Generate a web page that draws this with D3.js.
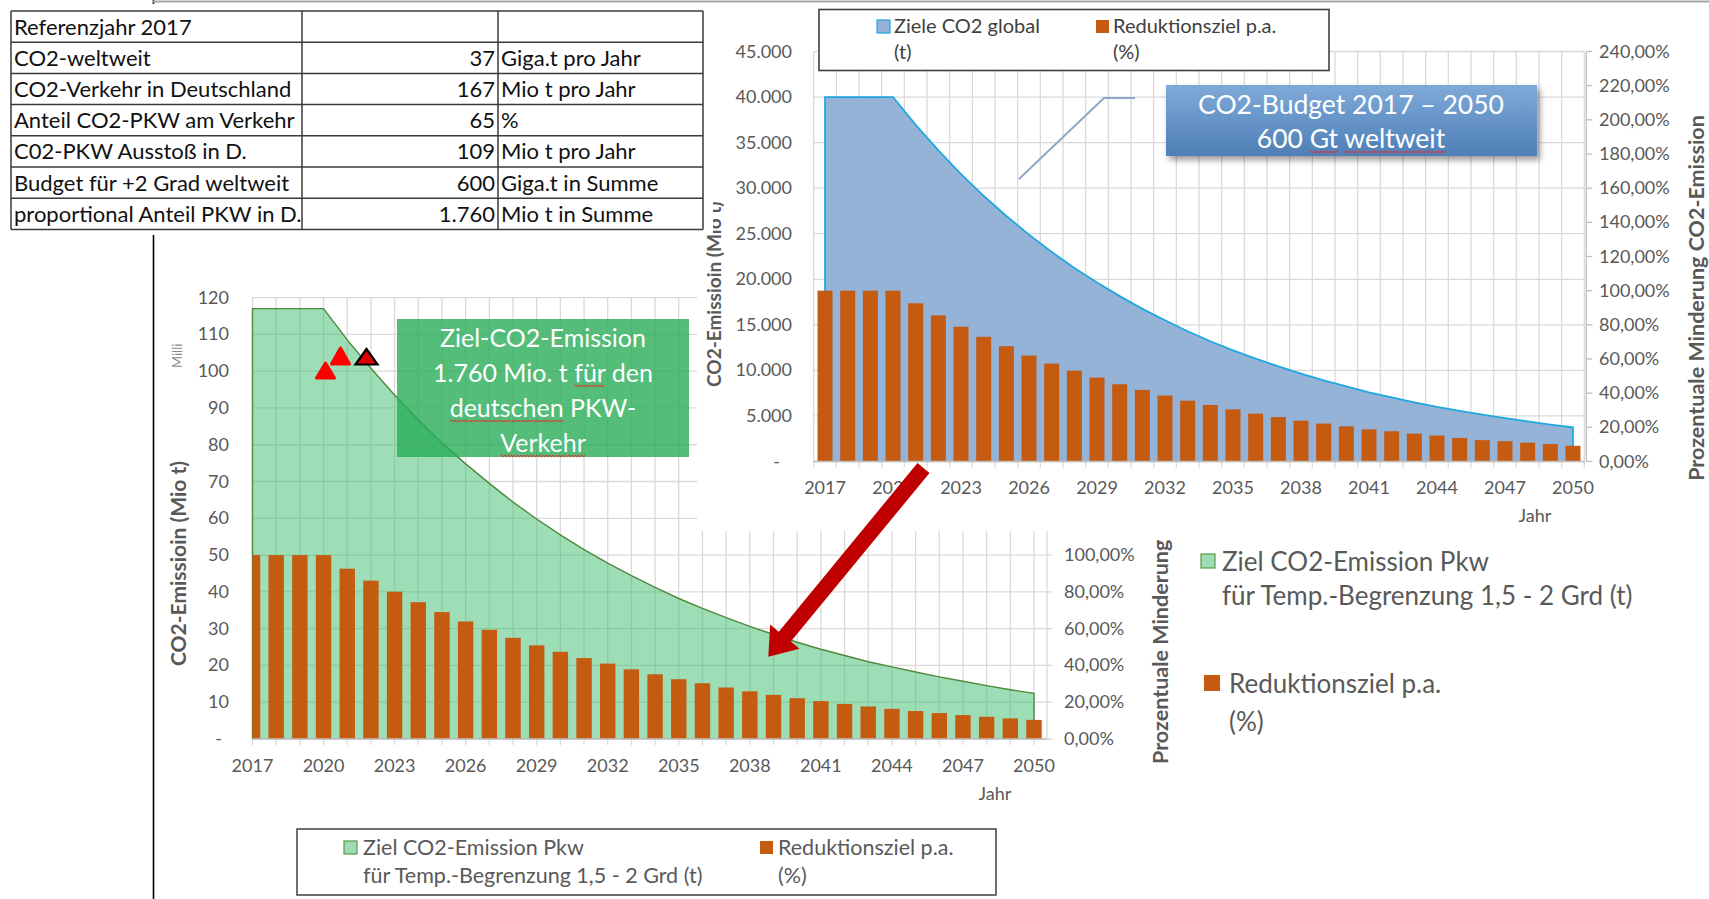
<!DOCTYPE html>
<html><head><meta charset="utf-8">
<script src="https://cdn.jsdelivr.net/npm/d3@7"></script>
<style>
body{margin:0;background:#fff;}
text{font-family:Lato,"Open Sans",sans-serif;}
</style>
</head><body>
<svg id="c" width="1709" height="899"></svg>
<script>
// ---- data ----
const years = [2017,2018,2019,2020,2021,2022,2023,2024,2025,2026,2027,2028,2029,2030,2031,2032,2033,
  2034,2035,2036,2037,2038,2039,2040,2041,2042,2043,2044,2045,2046,2047,2048,2049,2050];
const yearLabels = [2017,2020,2023,2026,2029,2032,2035,2038,2041,2044,2047,2050];

// German passenger-car CO2 target path (Mio t) and yearly reduction target (%)
const pkwTarget = [117,117,117,117,108.5,100.8,93.5,86.8,80.5,74.8,69.5,64.4,59.8,55.5,
  51.5,47.8,44.4,41.2,38.2,35.5,33.0,30.6,28.4,26.3,24.4,22.7,21.0,19.6,18.2,16.9,15.7,14.5,13.4,12.4];
const pkwReduction = [100,100,100,100,92.6,86.1,80.1,74.4,69.0,63.9,59.4,55.0,50.9,47.4,
  44.0,41.0,37.9,35.2,32.5,30.3,28.0,25.9,24.0,22.2,20.6,19.1,17.7,16.4,15.2,14.1,13.0,12.1,11.2,10.4];

// Global CO2 target path (Mio t) and yearly reduction target (%)
const globalTarget = [40000,40000,40000,40000,36950,34150,31550,29150,26950,24900,23000,21250,19650,18150,
  16750,15500,14300,13200,12200,11300,10450,9650,8900,8250,7600,7050,6500,6000,5550,5150,4750,4400,4050,3750];
const globalReduction = [100,100,100,100,92.6,85.5,78.9,73.0,67.5,62.0,57.3,53.2,49.1,45.2,
  41.9,38.6,35.6,33.1,30.5,28.0,26.0,23.9,22.2,20.6,18.8,17.7,16.3,15.2,13.8,12.5,11.9,11.0,10.2,9.2];

const pkwTicks = [0,10,20,30,40,50,60,70,80,90,100,110,120];
const pkwPctTicks = [0,20,40,60,80,100];
const globalTicks = [0,5000,10000,15000,20000,25000,30000,35000,40000,45000];
const pctTicks = [0,20,40,60,80,100,120,140,160,180,200,220,240];

const tableLabels = ["Referenzjahr 2017","CO2-weltweit","CO2-Verkehr in Deutschland","Anteil CO2-PKW am Verkehr",
  "C02-PKW Ausstoß in D.","Budget für +2 Grad weltweit","proportional Anteil PKW in D."];
const tableValues = ["","37","167","65","109","600","1.760"];
const tableUnits = ["","Giga.t pro Jahr","Mio t pro Jahr","%","Mio t pro Jahr","Giga.t in Summe","Mio t in Summe"];

// ---- helpers ----
const de = d3.formatLocale({decimal:",", thousands:".", grouping:[3], currency:["","€"]});
const fmtNum = d => d === 0 ? "-" : de.format(",")(d);
const fmtPct = d => de.format(".2f")(d) + "%";
const C = {grid:"#d9d9d9", axis:"#bfbfbf", label:"#595959", bar:"#c55a11", legendText:"#404040"};

const svg = d3.select("#c");
const defs = svg.append("defs");

function wavy(g, x1, x2, y){
  let d = `M${x1},${y}`; let up = true;
  for (let x = x1 + 1.6; x <= x2; x += 1.6){ d += `L${x},${y + (up ? -1.1 : 1.1)}`; up = !up; }
  g.append("path").attr("d", d).attr("fill","none").attr("stroke","#e03030").attr("stroke-width",0.9);
}
// centred multi-line text with spell-check squiggles under given words
function centredLines(g, cx, baselines, lines, size, squiggles){
  lines.forEach((s, i) => {
    const t = g.append("text").attr("x", cx).attr("y", baselines[i]).attr("text-anchor","middle")
      .attr("font-size", size).attr("fill","#fff").text(s);
    (squiggles[i] || []).forEach(w => {
      const idx = s.indexOf(w); if (idx < 0) return;
      const node = t.node(); const total = node.getComputedTextLength();
      const x0 = cx - total/2 + (idx > 0 ? node.getSubStringLength(0, idx) : 0);
      const wl = node.getSubStringLength(idx, w.length);
      wavy(g, x0, x0 + wl, baselines[i] + 4);
    });
  });
}

// ================= lower chart: German passenger cars =================
const L = {left:252.5, right:1047, top:297.6, bottom:739};
const xL = d3.scalePoint().domain(years).range([252.5, 1034]);
const yL = d3.scaleLinear().domain([0,120]).range([L.bottom, L.top]);
const yLR = d3.scaleLinear().domain([0,240]).range([L.bottom, L.top]);

defs.append("clipPath").attr("id","clipL").append("rect")
  .attr("x", L.left).attr("y", 0).attr("width", L.right - L.left).attr("height", 900);

const gL = svg.append("g");
// gridlines
gL.append("g").selectAll("line").data(pkwTicks).join("line")
  .attr("x1", L.left).attr("x2", L.right + 5).attr("y1", d => yL(d)).attr("y2", d => yL(d))
  .attr("stroke", C.grid).attr("stroke-width", 1.3);
gL.append("g").selectAll("line").data(years).join("line")
  .attr("x1", d => xL(d)).attr("x2", d => xL(d)).attr("y1", L.top).attr("y2", L.bottom + 6)
  .attr("stroke", C.grid).attr("stroke-width", 1.3);
gL.append("line").attr("x1", L.right).attr("x2", L.right).attr("y1", L.top).attr("y2", L.bottom)
  .attr("stroke", C.grid).attr("stroke-width", 1.3);

// target area
const pkwPts = years.map((y,i) => [xL(y), yL(pkwTarget[i])]);
gL.append("path")
  .attr("d", d3.area().x(d => d[0]).y0(yL(0)).y1(d => d[1])(pkwPts))
  .attr("fill", "rgb(60,190,110)").attr("fill-opacity", 0.5);
gL.append("path")
  .attr("d", d3.line()([[pkwPts[0][0], yL(0)], ...pkwPts, [pkwPts[pkwPts.length-1][0], yL(0)]]))
  .attr("fill","none").attr("stroke","#4e8a3a").attr("stroke-width",1.4);

// reduction bars
gL.append("g").attr("clip-path","url(#clipL)").selectAll("rect").data(years).join("rect")
  .attr("x", d => xL(d) - 7.7).attr("width", 15.4)
  .attr("y", (d,i) => yLR(pkwReduction[i])).attr("height", (d,i) => yLR(0) - yLR(pkwReduction[i]))
  .attr("fill", C.bar);

// axes
gL.append("line").attr("x1", L.left).attr("x2", L.right).attr("y1", L.bottom).attr("y2", L.bottom)
  .attr("stroke", C.axis).attr("stroke-width", 1.3);
gL.append("g").selectAll("text").data(pkwTicks).join("text")
  .attr("x", d => d === 0 ? 222 : 229).attr("y", d => yL(d) + 6).attr("text-anchor","end")
  .attr("font-size", 18).attr("fill", C.label).text(fmtNum);
gL.append("g").selectAll("text").data(yearLabels).join("text")
  .attr("x", d => xL(d)).attr("y", 772).attr("text-anchor","middle")
  .attr("font-size", 18).attr("fill", C.label).text(d => d);
gL.append("text").attr("x", 995).attr("y", 800).attr("text-anchor","middle")
  .attr("font-size", 18).attr("fill", C.label).text("Jahr");
gL.append("g").selectAll("text").data(pkwPctTicks).join("text")
  .attr("x", 1064).attr("y", d => yLR(d) + 6)
  .attr("font-size", 18).attr("fill", C.label).text(fmtPct);
gL.append("text").attr("transform","translate(186,666) rotate(-90)")
  .attr("font-size", 21).attr("font-weight","bold").attr("fill", C.label).text("CO2-Emissioin (Mio t)");
gL.append("text").attr("transform","translate(182,368) rotate(-90)")
  .attr("font-size", 13).attr("fill", "#8c8c8c").text("Milli");
gL.append("text").attr("transform","translate(1168,764) rotate(-90)")
  .attr("font-size", 21.5).attr("font-weight","bold").attr("fill", C.label).text("Prozentuale Minderung");

// text box on the lower chart
const gBox = svg.append("g");
gBox.append("rect").attr("x",397).attr("y",319).attr("width",292).attr("height",138)
  .attr("fill","rgb(40,172,88)").attr("fill-opacity",0.8);
centredLines(gBox, 543, [347,382,417,452],
  ["Ziel-CO2-Emission","1.760 Mio. t für den","deutschen PKW-","Verkehr"], 25,
  [[],["für"],["deutschen"],["Verkehr"]]);

// red markers
const tri = (cx, apexY, baseY, half) => `M${cx},${apexY}L${cx+half},${baseY}L${cx-half},${baseY}Z`;
svg.append("path").attr("d", tri(325.5,363,378,9)).attr("fill","#ff0000")
  .attr("stroke","#ff0000").attr("stroke-width",3).attr("stroke-linejoin","round");
svg.append("path").attr("d", tri(340.5,348,364,9)).attr("fill","#ff0000")
  .attr("stroke","#ff0000").attr("stroke-width",3).attr("stroke-linejoin","round");
svg.append("path").attr("d", tri(366.5,349,364.5,11)).attr("fill","#e00000")
  .attr("stroke","#000").attr("stroke-width",2.2);

// big legend right of the lower chart
const gBig = svg.append("g");
gBig.append("rect").attr("x",1201).attr("y",554).attr("width",14).attr("height",14)
  .attr("fill","#9ddcb5").attr("stroke","#5a9a45").attr("stroke-width",1.2);
gBig.append("text").attr("x",1222).attr("y",571).attr("font-size",26).attr("fill",C.label).text("Ziel CO2-Emission Pkw");
gBig.append("text").attr("x",1222).attr("y",605).attr("font-size",26).attr("fill",C.label).text("für Temp.-Begrenzung 1,5 - 2 Grd (t)");
gBig.append("rect").attr("x",1204).attr("y",675).attr("width",16).attr("height",16).attr("fill",C.bar);
gBig.append("text").attr("x",1229).attr("y",693).attr("font-size",26).attr("fill",C.label).text("Reduktionsziel p.a.");
gBig.append("text").attr("x",1229).attr("y",731).attr("font-size",26).attr("fill",C.label).text("(%)");

// legend box below the lower chart
const gLeg = svg.append("g");
gLeg.append("rect").attr("x",297).attr("y",829).attr("width",699).attr("height",66)
  .attr("fill","#fff").attr("stroke","#404040").attr("stroke-width",1.5);
gLeg.append("rect").attr("x",344).attr("y",841).attr("width",13).attr("height",13)
  .attr("fill","#9ddcb5").attr("stroke","#5a9a45").attr("stroke-width",1.2);
gLeg.append("text").attr("x",363).attr("y",855).attr("font-size",21.5).attr("fill",C.label).text("Ziel CO2-Emission Pkw");
gLeg.append("text").attr("x",363).attr("y",883).attr("font-size",21.5).attr("fill",C.label).text("für Temp.-Begrenzung 1,5 - 2 Grd (t)");
gLeg.append("rect").attr("x",760).attr("y",841).attr("width",13).attr("height",13).attr("fill",C.bar);
gLeg.append("text").attr("x",778).attr("y",855).attr("font-size",21.5).attr("fill",C.label).text("Reduktionsziel p.a.");
gLeg.append("text").attr("x",778).attr("y",883).attr("font-size",21.5).attr("fill",C.label).text("(%)");

// left frame line of the lower chart
svg.append("line").attr("x1",153.5).attr("x2",153.5).attr("y1",0).attr("y2",899)
  .attr("stroke","#000").attr("stroke-width",1.6);

// ================= upper chart: global budget =================
svg.append("rect").attr("x",697).attr("y",0).attr("width",1012).attr("height",531).attr("fill","#fff");
const T = {left:813.7, right:1584.3, top:51.5, bottom:461.5};
const xT = d3.scaleBand().domain(years).range([T.left, T.right]);
const cT = d => xT(d) + xT.bandwidth()/2;
const yT = d3.scaleLinear().domain([0,45000]).range([T.bottom, T.top]);
const yTR = d3.scaleLinear().domain([0,240]).range([T.bottom, T.top]);

const gT = svg.append("g");
gT.append("g").selectAll("line").data(globalTicks).join("line")
  .attr("x1", T.left).attr("x2", T.right).attr("y1", d => yT(d)).attr("y2", d => yT(d))
  .attr("stroke", C.grid).attr("stroke-width", 1.3);
const bounds = years.map(d => xT(d)).concat([T.right]);
gT.append("g").selectAll("line").data(bounds).join("line")
  .attr("x1", d => d).attr("x2", d => d).attr("y1", T.top).attr("y2", T.bottom + 6)
  .attr("stroke", C.grid).attr("stroke-width", 1.3);

const gPts = years.map((y,i) => [cT(y), yT(globalTarget[i])]);
gT.append("path").attr("d", d3.area().x(d => d[0]).y0(yT(0)).y1(d => d[1])(gPts))
  .attr("fill","#95b3d7");
gT.append("path")
  .attr("d", d3.line()([[gPts[0][0], yT(0)], ...gPts, [gPts[gPts.length-1][0], yT(0)]]))
  .attr("fill","none").attr("stroke","#1fa7e0").attr("stroke-width",1.8);

gT.append("g").selectAll("rect").data(years).join("rect")
  .attr("x", d => cT(d) - 7.5).attr("width", 15)
  .attr("y", (d,i) => yTR(globalReduction[i])).attr("height", (d,i) => yTR(0) - yTR(globalReduction[i]))
  .attr("fill", C.bar);

gT.append("line").attr("x1", T.left).attr("x2", T.right).attr("y1", T.bottom).attr("y2", T.bottom)
  .attr("stroke", C.axis).attr("stroke-width", 1.3);
gT.append("line").attr("x1", T.right + 2).attr("x2", T.right + 2).attr("y1", T.top).attr("y2", T.bottom)
  .attr("stroke", C.axis).attr("stroke-width", 1.3);
gT.append("g").selectAll("line").data(pctTicks).join("line")
  .attr("x1", T.right + 2).attr("x2", T.right + 8).attr("y1", d => yTR(d)).attr("y2", d => yTR(d))
  .attr("stroke", C.axis).attr("stroke-width", 1.3);
gT.append("g").selectAll("text").data(globalTicks).join("text")
  .attr("x", d => d === 0 ? 780 : 792).attr("y", d => yT(d) + 6).attr("text-anchor","end")
  .attr("font-size", 18).attr("fill", C.label).text(fmtNum);
gT.append("g").selectAll("text").data(pctTicks).join("text")
  .attr("x", 1599).attr("y", d => yTR(d) + 6)
  .attr("font-size", 18).attr("fill", C.label).text(fmtPct);
gT.append("g").selectAll("text").data(yearLabels).join("text")
  .attr("x", d => cT(d)).attr("y", 494).attr("text-anchor","middle")
  .attr("font-size", 18).attr("fill", C.label).text(d => d);
gT.append("text").attr("x", 1535).attr("y", 522).attr("text-anchor","middle")
  .attr("font-size", 18).attr("fill", C.label).text("Jahr");
gT.append("text").attr("transform","translate(721,387) rotate(-90)")
  .attr("font-size", 19).attr("font-weight","bold").attr("fill", C.label).text("CO2-Emissioin (Mio t)");
gT.append("text").attr("transform","translate(1704,298) rotate(-90)").attr("text-anchor","middle")
  .attr("font-size", 21.5).attr("font-weight","bold").attr("fill", C.label).text("Prozentuale Minderung CO2-Emission");

// legend of the upper chart
const gTL = svg.append("g");
gTL.append("rect").attr("x",819).attr("y",9.5).attr("width",510).attr("height",61)
  .attr("fill","#fff").attr("stroke","#404040").attr("stroke-width",1.6);
gTL.append("rect").attr("x",877).attr("y",20).attr("width",13).attr("height",13)
  .attr("fill","#95b3d7").attr("stroke","#1fa7e0").attr("stroke-width",1.2);
gTL.append("text").attr("x",894).attr("y",33).attr("font-size",20).attr("fill",C.legendText).text("Ziele CO2 global");
gTL.append("text").attr("x",894).attr("y",59).attr("font-size",20).attr("fill",C.legendText).text("(t)");
gTL.append("rect").attr("x",1096).attr("y",20).attr("width",13).attr("height",13).attr("fill",C.bar);
gTL.append("text").attr("x",1113).attr("y",33).attr("font-size",20).attr("fill",C.legendText).text("Reduktionsziel p.a.");
gTL.append("text").attr("x",1113).attr("y",59).attr("font-size",20).attr("fill",C.legendText).text("(%)");

// callout: global budget
const grad = defs.append("linearGradient").attr("id","calloutGrad").attr("x1",0).attr("y1",0).attr("x2",0).attr("y2",1);
grad.append("stop").attr("offset","0%").attr("stop-color","#7eaad9");
grad.append("stop").attr("offset","100%").attr("stop-color","#4f7fb6");
const shadow = defs.append("filter").attr("id","shadow").attr("x","-10%").attr("y","-20%").attr("width","130%").attr("height","160%");
shadow.append("feDropShadow").attr("dx",3).attr("dy",4).attr("stdDeviation",3).attr("flood-color","#000").attr("flood-opacity",0.4);
svg.append("path").attr("d","M1019,179L1104,98L1135,98").attr("fill","none")
  .attr("stroke","#8ea9c8").attr("stroke-width",2);
const gCall = svg.append("g");
gCall.append("rect").attr("x",1166).attr("y",85).attr("width",371).attr("height",71)
  .attr("fill","url(#calloutGrad)").attr("filter","url(#shadow)");
centredLines(gCall, 1351, [114,148], ["CO2-Budget 2017 – 2050","600 Gt weltweit"], 26.5,
  [[],["Gt","weltweit"]]);

// ================= reference table =================
const gTab = svg.append("g");
gTab.append("rect").attr("x",0).attr("y",4).attr("width",713).attr("height",231).attr("fill","#fff");
const colX = [11, 302, 498, 703];
const rowH = 31.2, tabTop = 11;
const rowsY = d3.range(tableLabels.length + 1).map(i => tabTop + i * rowH);
gTab.append("g").selectAll("line").data(rowsY).join("line")
  .attr("x1", colX[0]).attr("x2", colX[3]).attr("y1", d => d).attr("y2", d => d)
  .attr("stroke","#3a3a3a").attr("stroke-width",1.5);
gTab.append("g").selectAll("line").data(colX).join("line")
  .attr("x1", d => d).attr("x2", d => d).attr("y1", tabTop).attr("y2", rowsY[rowsY.length-1])
  .attr("stroke","#3a3a3a").attr("stroke-width",1.5);
tableLabels.forEach((s,i) => {
  const y = tabTop + i * rowH + 23.5;
  gTab.append("text").attr("x",14).attr("y",y).attr("font-size",22).attr("fill","#111").text(s);
  gTab.append("text").attr("x",495).attr("y",y).attr("text-anchor","end").attr("font-size",22).attr("fill","#111").text(tableValues[i]);
  gTab.append("text").attr("x",501).attr("y",y).attr("font-size",22).attr("fill","#111").text(tableUnits[i]);
});

// top frame line
svg.append("line").attr("x1",152).attr("x2",1709).attr("y1",1.5).attr("y2",1.5)
  .attr("stroke","#a6a6a6").attr("stroke-width",2);

// ================= red arrow between the charts =================
(function(){
  const tail = [923.5, 468], tip = [768.3, 656.7];
  const dx = tip[0]-tail[0], dy = tip[1]-tail[1], len = Math.hypot(dx,dy);
  const ux = dx/len, uy = dy/len, nx = -uy, ny = ux;
  const sw = 7.8, hw = 19, hl = 26;
  const bx = tip[0] - ux*hl, by = tip[1] - uy*hl;
  const p = [
    [tail[0]+nx*sw, tail[1]+ny*sw], [bx+nx*sw, by+ny*sw], [bx+nx*hw, by+ny*hw], tip,
    [bx-nx*hw, by-ny*hw], [bx-nx*sw, by-ny*sw], [tail[0]-nx*sw, tail[1]-ny*sw]
  ];
  svg.append("path").attr("d", "M" + p.map(q => q.join(",")).join("L") + "Z").attr("fill","#c00000");
})();
</script>
</body></html>
